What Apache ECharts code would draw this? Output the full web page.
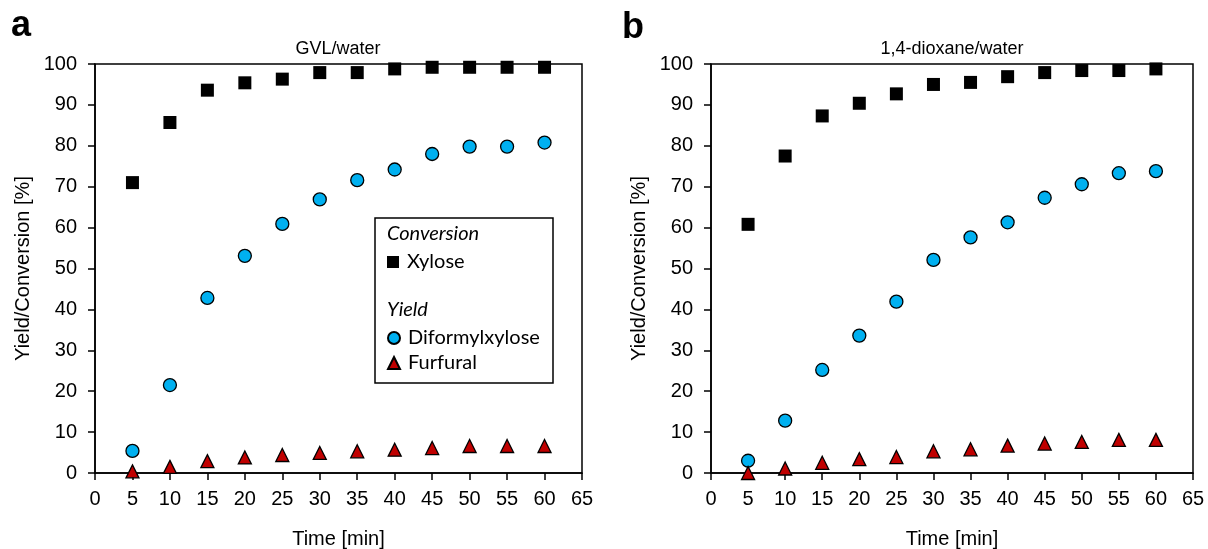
<!DOCTYPE html>
<html>
<head>
<meta charset="utf-8">
<script src="https://cdn.jsdelivr.net/npm/echarts@6/dist/echarts.min.js"></script>
<style>
  html, body { margin: 0; padding: 0; background: #fff; }
  #chart { width: 1208px; height: 549px; }
</style>
</head>
<body>
<div id="chart"></div>
<script>
// time axis (min)
var times = [5, 10, 15, 20, 25, 30, 35, 40, 45, 50, 55, 60];

// a: GVL/water
var xyloseA = [71.0, 85.7, 93.6, 95.4, 96.3, 97.9, 97.9, 98.8, 99.2, 99.2, 99.2, 99.2];
var diformA = [5.4, 21.5, 42.8, 53.1, 60.9, 66.9, 71.6, 74.2, 78.0, 79.8, 79.8, 80.8];
var furfuralA = [0.4, 1.5, 2.9, 3.8, 4.4, 4.9, 5.3, 5.7, 6.1, 6.6, 6.6, 6.6];

// b: 1,4-dioxane/water
var xyloseB = [60.8, 77.5, 87.3, 90.4, 92.7, 95.0, 95.5, 96.9, 97.9, 98.4, 98.4, 98.8];
var diformB = [3.0, 12.8, 25.2, 33.6, 41.9, 52.1, 57.6, 61.3, 67.3, 70.6, 73.3, 73.8];
var furfuralB = [0.0, 1.1, 2.5, 3.4, 3.9, 5.3, 5.8, 6.7, 7.2, 7.6, 8.1, 8.1];

var pairs = function (ys) {
    return times.map(function (t, i) { return [t, ys[i]]; });
};

var axisFont = 'Liberation Sans';
var legendFont = 'Lato';

var makeX = function (idx) {
    return {
        type: 'value', gridIndex: idx, min: 0, max: 65, interval: 5,
        name: 'Time [min]', nameLocation: 'middle', nameGap: 56,
        nameTextStyle: {fontFamily: axisFont, fontSize: 20, color: '#000'},
        axisLine: {show: true, lineStyle: {color: '#000', width: 1.5}},
        axisTick: {show: true, inside: false, length: 7, lineStyle: {color: '#000', width: 1.5}},
        axisLabel: {fontFamily: axisFont, fontSize: 20, color: '#000', margin: 16},
        splitLine: {show: false}
    };
};
var makeY = function (idx) {
    return {
        type: 'value', gridIndex: idx, min: 0, max: 100, interval: 10,
        name: 'Yield/Conversion [%]', nameLocation: 'middle', nameGap: 62,
        nameTextStyle: {fontFamily: axisFont, fontSize: 20, color: '#000'},
        axisLine: {show: true, lineStyle: {color: '#000', width: 1.5}},
        axisTick: {show: true, inside: false, length: 7, lineStyle: {color: '#000', width: 1.5}},
        axisLabel: {fontFamily: axisFont, fontSize: 20, color: '#000', margin: 18},
        splitLine: {show: false}
    };
};

var squareStyle = {color: '#000', borderColor: '#000', borderWidth: 0, opacity: 1};
var circleStyle = {color: '#00B0F0', borderColor: '#000', borderWidth: 1.3, opacity: 1};
var triStyle = {color: '#C00000', borderColor: '#000', borderWidth: 1.3, opacity: 1};

var makeSeries = function (idx, xy, df, fu) {
    return [
        {name: 'Xylose', type: 'scatter', xAxisIndex: idx, yAxisIndex: idx, symbol: 'rect',
            symbolSize: 13, itemStyle: squareStyle, data: pairs(xy), clip: false},
        {name: 'Diformylxylose', type: 'scatter', xAxisIndex: idx, yAxisIndex: idx, symbol: 'circle',
            symbolSize: 13, itemStyle: circleStyle, data: pairs(df), clip: false},
        {name: 'Furfural', type: 'scatter', xAxisIndex: idx, yAxisIndex: idx, symbol: 'triangle',
            symbolSize: 13, itemStyle: triStyle, data: pairs(fu), clip: false}
    ];
};

var chart = echarts.init(document.getElementById('chart'));
chart.setOption({
    backgroundColor: '#fff',
    animation: false,
    title: [
        {text: 'a', left: 11, top: 8, padding: 0,
            textStyle: {fontFamily: axisFont, fontSize: 36, fontWeight: 'bold', color: '#000'}},
        {text: 'b', left: 622, top: 10, padding: 0,
            textStyle: {fontFamily: axisFont, fontSize: 36, fontWeight: 'bold', color: '#000'}},
        {text: 'GVL/water', left: 338, top: 40, textAlign: 'center', padding: 0,
            textStyle: {fontFamily: axisFont, fontSize: 18, fontWeight: 'normal', color: '#000'}},
        {text: '1,4-dioxane/water', left: 952, top: 40, textAlign: 'center', padding: 0,
            textStyle: {fontFamily: axisFont, fontSize: 18, fontWeight: 'normal', color: '#000'}}
    ],
    grid: [
        {left: 95, top: 64, width: 487, height: 409, show: true, borderColor: '#000', borderWidth: 1.5,
            outerBoundsMode: 'none'},
        {left: 711, top: 64, width: 482, height: 409, show: true, borderColor: '#000', borderWidth: 1.5,
            outerBoundsMode: 'none'}
    ],
    xAxis: [makeX(0), makeX(1)],
    yAxis: [makeY(0), makeY(1)],
    legend: [
        {data: ['Xylose'], left: 387, top: 252, orient: 'vertical', padding: 0, z: 20,
            itemWidth: 12, itemHeight: 12, itemGap: 0, selectedMode: false,
            textStyle: {fontFamily: legendFont, fontSize: 20, color: '#000', padding: [0, 0, 0, 3]}},
        {data: ['Diformylxylose', 'Furfural'], left: 387, top: 328, orient: 'vertical', padding: 0, z: 20,
            itemWidth: 12, itemHeight: 12, itemGap: 5, selectedMode: false,
            textStyle: {fontFamily: legendFont, fontSize: 20, color: '#000', padding: [0, 0, 0, 3]}}
    ],
    graphic: [
        {type: 'rect', shape: {x: 375, y: 218, width: 178, height: 165},
            style: {fill: '#fff', stroke: '#000', lineWidth: 1.5}, z: 1},
        {type: 'text', left: 387, top: 224, z: 6,
            style: {text: 'Conversion', fontFamily: legendFont, fontSize: 20, fontStyle: 'italic', fill: '#000'}},
        {type: 'text', left: 387, top: 300, z: 6,
            style: {text: 'Yield', fontFamily: legendFont, fontSize: 20, fontStyle: 'italic', fill: '#000'}}
    ],
    series: makeSeries(0, xyloseA, diformA, furfuralA).concat(makeSeries(1, xyloseB, diformB, furfuralB))
});
</script>
</body>
</html>
